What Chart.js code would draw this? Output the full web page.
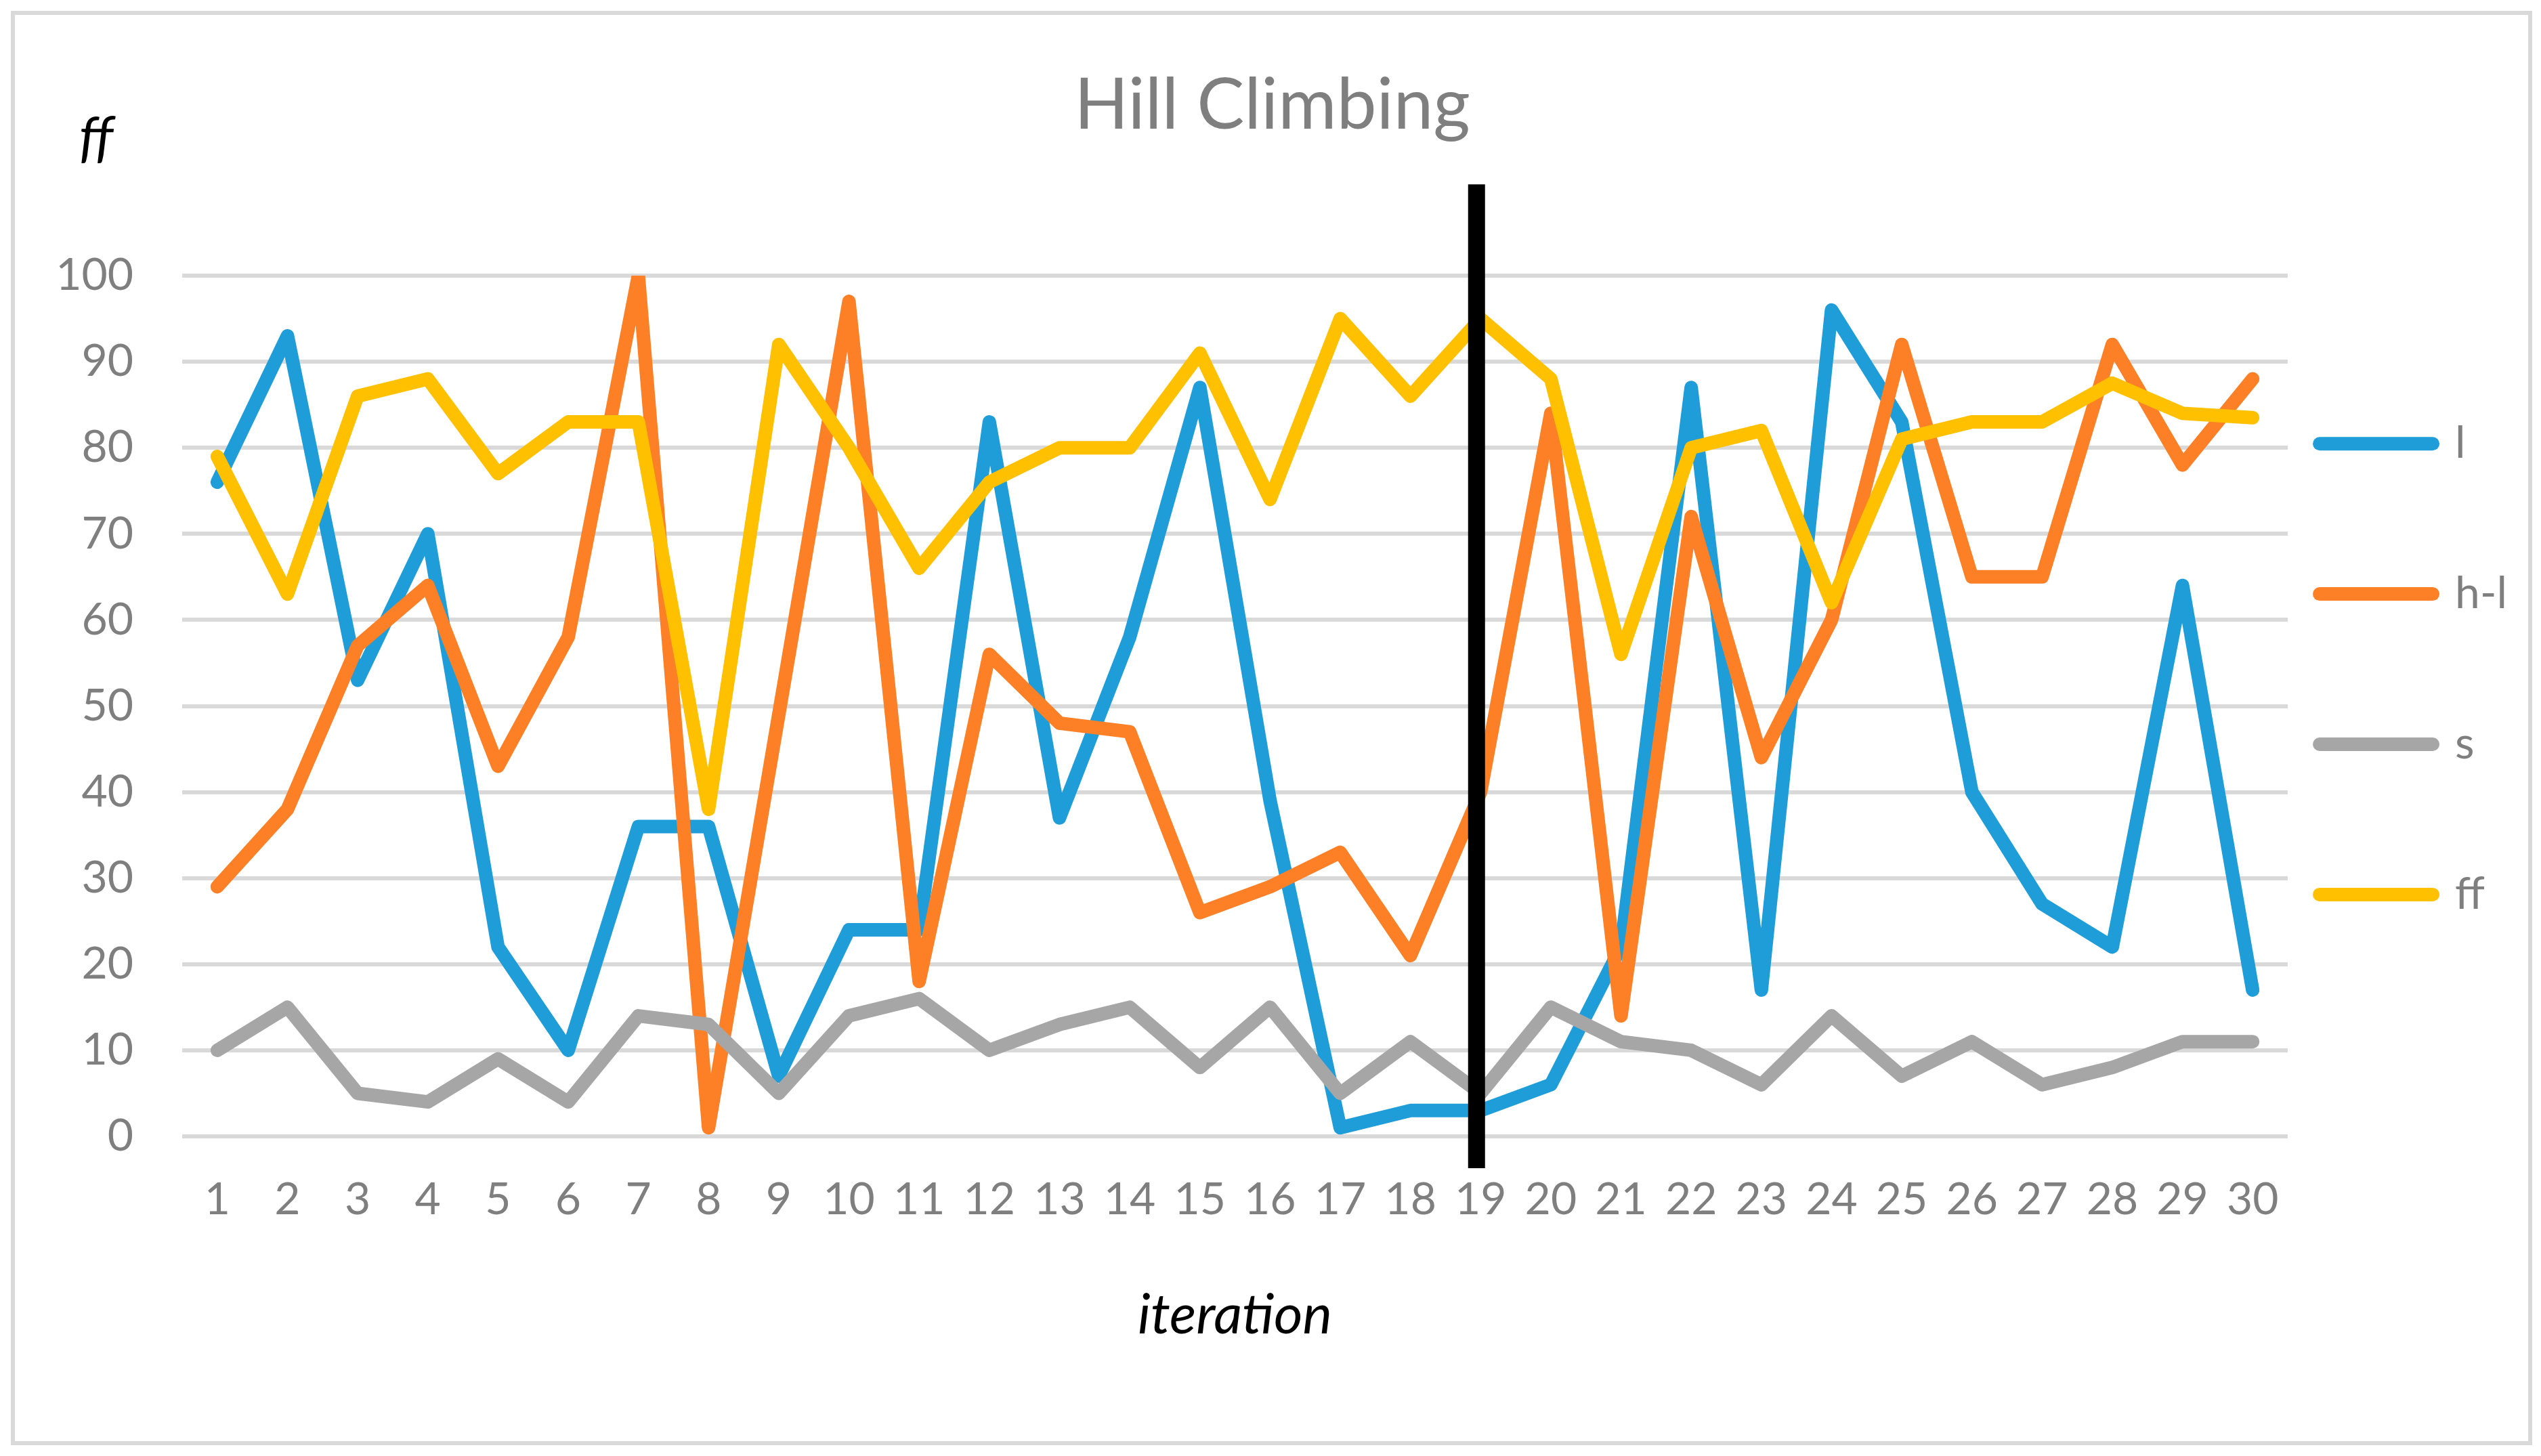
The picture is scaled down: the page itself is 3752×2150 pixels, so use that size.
<!DOCTYPE html>
<html>
<head>
<meta charset="utf-8">
<script src="https://cdn.jsdelivr.net/npm/chart.js@4.4.1/dist/chart.umd.min.js"></script>
<style>
    html, body { margin: 0; padding: 0; background: #ffffff; overflow: hidden; }
    #wrap { width: 3752px; height: 2150px; position: relative; }
</style>
</head>
<body>
<div id="wrap"><canvas id="hill"></canvas></div>
<script>
// 데이터
const iterations = ['1', '2', '3', '4', '5', '6', '7', '8', '9', '10', '11', '12', '13', '14', '15',
    '16', '17', '18', '19', '20', '21', '22', '23', '24', '25', '26', '27', '28', '29', '30'];
const lValues = [76, 93, 53, 70, 22, 10, 36, 36, 7, 24, 24, 83, 37, 58, 87,
    39, 1, 3, 3, 6, 22, 87, 17, 96, 83, 40, 27, 22, 64, 17];
const hlValues = [29, 38, 57, 64, 43, 58, 100, 1, 49, 97, 18, 56, 48, 47, 26,
    29, 33, 21, 40, 84, 14, 72, 44, 60, 92, 65, 65, 92, 78, 88];
const sValues = [10, 15, 5, 4, 9, 4, 14, 13, 5, 14, 16, 10, 13, 15, 8,
    15, 5, 11, 5, 15, 11, 10, 6, 14, 7, 11, 6, 8, 11, 11];
const ffValues = [79, 63, 86, 88, 77, 83, 83, 38, 92, 80, 66, 76, 80, 80, 91,
    74, 95, 86, 95, 88, 56, 80, 82, 62, 81, 83, 83, 87.5, 84, 83.5];
const seriesNames = ['l', 'h-l', 's', 'ff'];
const seriesColors = ['#1f9dd9', '#fd7f26', '#a6a6a6', '#ffc000'];

// 19번째 반복에 그어진 검은 세로선
const markerIteration = '19';
const markerRange = [110.6, -3.7];

const GRAY = '#7f7f7f';
const FONT = 'Lato, "Open Sans", sans-serif';

function lineSet(i, values) {
    return {
        label: seriesNames[i],
        data: values,
        borderColor: seriesColors[i],
        backgroundColor: seriesColors[i],
        borderWidth: 20,
        borderJoinStyle: 'round',
        borderCapStyle: 'round',
        pointRadius: 0,
        tension: 0,
        fill: false,
        order: 4 - i, // 엑셀처럼 뒤 시리즈가 위에 그려짐
    };
}

const data1 = {
    labels: iterations,
    datasets: [
        lineSet(0, lValues),
        lineSet(1, hlValues),
        lineSet(2, sValues),
        lineSet(3, ffValues),
    ]
};

// 테두리, ff 라벨, 검은 세로선
const extras = {
    id: 'extras',
    beforeDraw(chart) {
        const c = chart.ctx;
        c.save();
        c.fillStyle = '#ffffff';
        c.fillRect(0, 0, chart.width, chart.height);
        c.strokeStyle = '#d9d9d9';
        c.lineWidth = 6;
        c.strokeRect(19, 19, 3717, 2112);
        c.restore();
    },
    afterDatasetsDraw(chart) {
        const c = chart.ctx;
        const x = chart.scales.x;
        const y = chart.scales.y;
        const px = x.getPixelForValue(iterations.indexOf(markerIteration)) - 6;
        c.save();
        c.strokeStyle = '#000000';
        c.lineWidth = 25;
        c.beginPath();
        c.moveTo(px, y.getPixelForValue(markerRange[0]));
        c.lineTo(px, y.getPixelForValue(markerRange[1]));
        c.stroke();
        c.restore();
    },
    afterDraw(chart) {
        const c = chart.ctx;
        c.save();
        c.fillStyle = '#000000';
        c.font = 'italic 82px ' + FONT;
        c.textAlign = 'center';
        c.textBaseline = 'middle';
        c.fillText('ff', 142, 205);
        c.restore();
    }
};

const config1 = {
    type: 'line',
    data: data1,
    plugins: [extras],
    options: {
        responsive: true,
        maintainAspectRatio: false,
        devicePixelRatio: 1,
        animation: false,
        layout: {
            padding: { left: 45, right: 40, top: 20, bottom: 142 }
        },
        plugins: {
            tooltip: { enabled: false },
            title: {
                display: true,
                text: 'Hill Climbing',
                color: GRAY,
                font: { family: FONT, size: 105, weight: 'normal', lineHeight: 1.2 },
                padding: { top: 73, bottom: 188 },
            },
            legend: {
                display: true,
                position: 'right',
                fullSize: false,
                labels: {
                    color: GRAY,
                    font: { family: FONT, size: 66, lineHeight: 2.65 },
                    usePointStyle: true,
                    pointStyle: 'line',
                    pointStyleWidth: 167,
                    padding: 47,
                    generateLabels: function (chart) {
                        const items = Chart.defaults.plugins.legend.labels.generateLabels(chart);
                        items.sort((a, b) => a.datasetIndex - b.datasetIndex);
                        items.forEach(it => {
                            it.text = [it.text];
                            it.pointStyle = 'line';
                            it.lineCap = 'round';
                        });
                        return items;
                    }
                }
            }
        },
        scales: {
            x: {
                offset: true,
                grid: { display: false, drawTicks: false },
                border: { display: false },
                ticks: {
                    color: GRAY,
                    padding: 54,
                    maxRotation: 0,
                    autoSkip: false,
                    font: { family: FONT, size: 66 },
                },
                title: {
                    display: true,
                    text: 'iteration',
                    color: '#000000',
                    font: { family: FONT, size: 82, style: 'italic', lineHeight: 1.2 },
                    padding: { top: 0, bottom: 16 },
                },
                afterFit: function (scale) { scale.height = 330; }
            },
            y: {
                min: 0,
                max: 100,
                grid: { color: '#d9d9d9', lineWidth: 6, drawTicks: false },
                border: { display: false },
                ticks: {
                    stepSize: 10,
                    color: GRAY,
                    padding: 72,
                    font: { family: FONT, size: 66 },
                },
                afterFit: function (scale) { scale.width = 224; }
            }
        }
    }
};

var ctx1 = document.getElementById('hill').getContext('2d');
var myChart1 = new Chart(ctx1, config1);
</script>
</body>
</html>
